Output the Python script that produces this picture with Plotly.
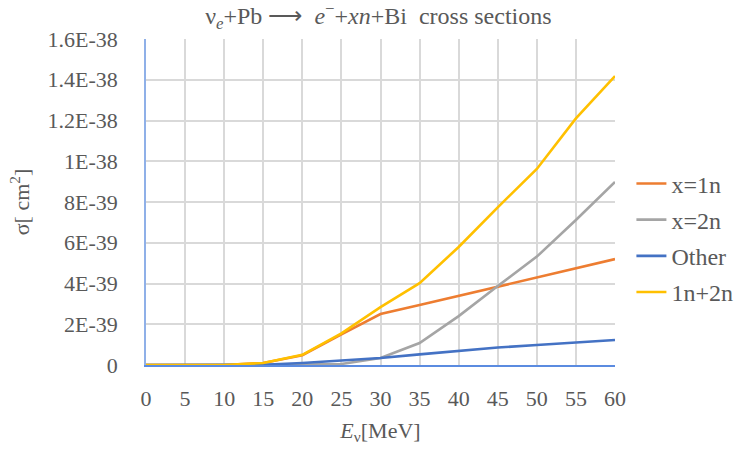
import plotly.graph_objects as go

# Neutrino energy grid [MeV]
energy = [0, 5, 10, 15, 20, 25, 30, 35, 40, 45, 50, 55, 60]

# Cross sections in units of 1E-39 cm^2
sigma_1n = [0, 0, 0, 0.10, 0.48, 1.50, 2.50, 2.94, 3.39, 3.86, 4.30, 4.74, 5.20]
sigma_2n = [0, 0, 0, 0, 0.02, 0.05, 0.34, 1.08, 2.40, 3.88, 5.32, 7.12, 8.98]
sigma_other = [0, 0, 0, 0.01, 0.10, 0.22, 0.34, 0.52, 0.70, 0.86, 0.98, 1.12, 1.23]
sigma_sum = [0, 0, 0, 0.10, 0.50, 1.55, 2.84, 4.02, 5.79, 7.74, 9.62, 12.10, 14.18]

y_tick_vals = [0, 2, 4, 6, 8, 10, 12, 14, 16]
y_tick_text = ["0", "2E-39", "4E-39", "6E-39", "8E-39", "1E-38", "1.2E-38", "1.4E-38", "1.6E-38"]
x_tick_vals = [0, 5, 10, 15, 20, 25, 30, 35, 40, 45, 50, 55, 60]

series = [
    ("x=1n", sigma_1n, "#ED7D31"),
    ("x=2n", sigma_2n, "#A5A5A5"),
    ("Other", sigma_other, "#4472C4"),
    ("1n+2n", sigma_sum, "#FFC000"),
]

scale = 1e-39
fig = go.Figure()
for name, vals, color in series:
    fig.add_trace(go.Scatter(
        x=energy, y=[v * scale for v in vals], mode="lines", name=name,
        legendgroup=name, line=dict(color=color, width=2.6),
    ))

serif = "Liberation Serif"
text_color = "#595959"
fig.update_layout(
    width=739, height=451,
    margin=dict(l=146, r=124, t=39, b=86, autoexpand=False),
    paper_bgcolor="white", plot_bgcolor="white",
    font=dict(family=serif, size=22, color=text_color),
    title=dict(
        text="ν<sub><i>e</i></sub>+Pb ⟶  <i>e</i><sup>−</sup>+<i>xn</i>+Bi  cross sections",
        x=0.512, xanchor="center", y=0.984, yanchor="top",
        font=dict(family=serif, size=24, color=text_color),
    ),
    legend=dict(
        x=1.035, xanchor="left", y=0.39, yanchor="middle",
        font=dict(family=serif, size=24, color=text_color), tracegroupgap=2,
        itemwidth=30, bgcolor="rgba(0,0,0,0)",
    ),
    showlegend=True,
)
fig.update_xaxes(
    range=[0, 60], tickvals=x_tick_vals,
    showgrid=True, gridcolor="#D9D9D9", gridwidth=1.5,
    showline=True, linecolor="#5B8BE0", linewidth=1.5,
    zeroline=False, ticks="", ticklen=0, ticklabelstandoff=13,
    tickfont=dict(family=serif, size=22, color=text_color),
    title=dict(text="<i>E</i><sub>ν</sub>[MeV]", standoff=12,
               font=dict(family=serif, size=22, color=text_color)),
)
fig.update_yaxes(
    range=[0, 16 * scale],
    tickvals=[v * scale for v in y_tick_vals], ticktext=y_tick_text,
    showgrid=True, gridcolor="#D9D9D9", gridwidth=1.5,
    showline=True, linecolor="#8FB0E8", linewidth=1.5,
    zeroline=False, ticks="outside", ticklen=22, tickcolor="rgba(0,0,0,0)",
    tickfont=dict(family=serif, size=22, color=text_color),
    title=dict(text="σ[ cm<sup>2</sup>]", standoff=12,
               font=dict(family=serif, size=22, color=text_color)),
)

fig.write_html("out.html")
